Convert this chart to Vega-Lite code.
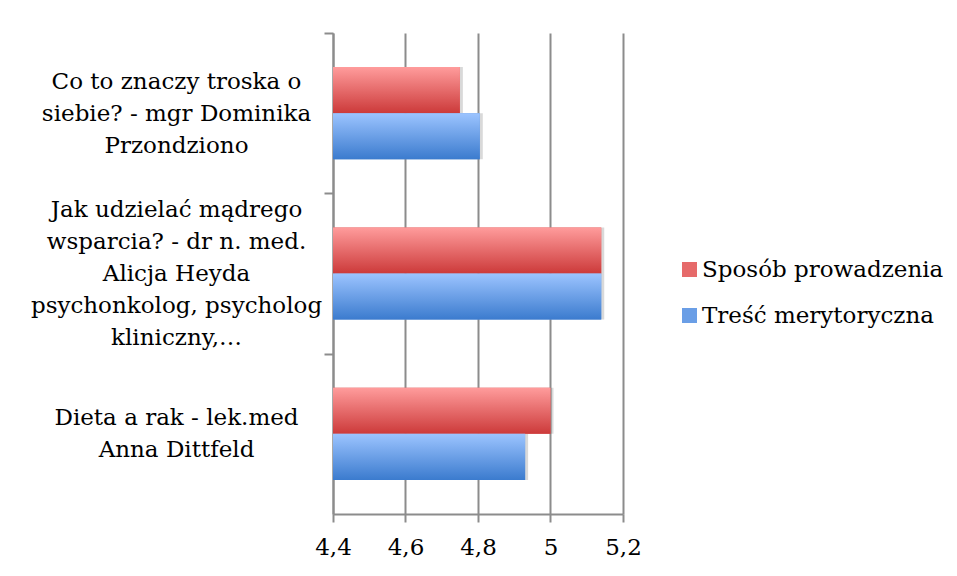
{
  "$schema": "https://vega.github.io/schema/vega-lite/v6.json",
  "width": 290,
  "height": 481,
  "autosize": {"type": "none"},
  "padding": {"left": 333, "top": 33, "right": 334, "bottom": 62},
  "background": "white",
  "config": {"view": {"stroke": null}, "font": "DejaVu Serif"},
  "data": {
    "values": [
      {"topic": "Co to znaczy troska o\nsiebie? - mgr Dominika\nPrzondziono", "series": "Sposób prowadzenia", "value": 4.75},
      {"topic": "Co to znaczy troska o\nsiebie? - mgr Dominika\nPrzondziono", "series": "Treść merytoryczna", "value": 4.805},
      {"topic": "Jak udzielać mądrego\nwsparcia? - dr n. med.\nAlicja Heyda\npsychonkolog, psycholog\nkliniczny,…", "series": "Sposób prowadzenia", "value": 5.14},
      {"topic": "Jak udzielać mądrego\nwsparcia? - dr n. med.\nAlicja Heyda\npsychonkolog, psycholog\nkliniczny,…", "series": "Treść merytoryczna", "value": 5.14},
      {"topic": "Dieta a rak - lek.med\nAnna Dittfeld", "series": "Sposób prowadzenia", "value": 5.0},
      {"topic": "Dieta a rak - lek.med\nAnna Dittfeld", "series": "Treść merytoryczna", "value": 4.93}
    ]
  },
  "encoding": {
    "y": {
      "field": "topic",
      "type": "nominal",
      "sort": null,
      "scale": {"paddingInner": 0.425, "paddingOuter": 0.2125},
      "axis": {
        "title": null,
        "grid": false,
        "tickOffset": -80.17,
        "labelOffset": 16.17,
        "domainColor": "#8c8c8c",
        "domainWidth": 2,
        "tickColor": "#8c8c8c",
        "tickWidth": 2,
        "tickSize": 9,
        "labelFont": "DejaVu Serif",
        "labelFontSize": 23,
        "labelColor": "black",
        "labelAlign": "center",
        "labelBaseline": {
          "condition": {"test": "indexof(datum.value, 'Dieta') == 0", "value": "line-top"},
          "value": "middle"
        },
        "labelLineHeight": 32,
        "labelLimit": 0,
        "labelOverlap": false,
        "labelBound": false,
        "labelExpr": "split((length(split(datum.value, '\\n')) < 5 ? '\u00a0\\n' : '') + datum.value, '\\n')",
        "labelPadding": 148
      }
    },
    "yOffset": {"field": "series", "type": "nominal", "sort": ["Sposób prowadzenia", "Treść merytoryczna"], "scale": {"domain": ["Sposób prowadzenia", "Treść merytoryczna"]}},
    "x": {
      "field": "value",
      "type": "quantitative",
      "stack": null,
      "scale": {"domain": [4.4, 5.2], "zero": false, "nice": false},
      "axis": {
        "title": null,
        "values": [4.4, 4.6, 4.8, 5, 5.2],
        "labelExpr": "replace(format(datum.value, '~g'), '.', ',')",
        "labelFlush": false,
        "grid": true,
        "gridColor": "#8c8c8c",
        "gridWidth": 2,
        "domainColor": "#8c8c8c",
        "domainWidth": 2,
        "tickColor": "#8c8c8c",
        "tickWidth": 2,
        "tickSize": 8,
        "labelFont": "DejaVu Serif",
        "labelFontSize": 23,
        "labelColor": "black",
        "labelPadding": 14
      }
    }
  },
  "layer": [
    {
      "mark": {"type": "bar", "color": "#000000", "opacity": 0.15, "xOffset": 3, "yOffset": 3}
    },
    {
      "mark": {"type": "bar"},
      "encoding": {
        "color": {
          "field": "series",
          "type": "nominal",
          "scale": {
            "domain": ["Sposób prowadzenia", "Treść merytoryczna"],
            "range": ["#e66a6a", "#6a9ee6"]
          },
          "legend": {
            "title": null,
            "orient": "none",
            "legendX": 345,
            "legendY": 225,
            "symbolType": "square",
            "symbolSize": 225,
            "symbolStrokeWidth": 0,
            "symbolOpacity": 1,
            "labelFont": "DejaVu Serif",
            "labelFontSize": 23,
            "labelColor": "black",
            "labelOffset": 1,
            "labelLimit": 0,
            "rowPadding": 22
          }
        }
      }
    },
    {
      "transform": [{"filter": "datum.series == 'Sposób prowadzenia'"}],
      "mark": {"type": "bar", "opacity": 1, "color": {"gradient": "linear", "x1": 0, "y1": 0, "x2": 0, "y2": 1, "stops": [{"offset": 0, "color": "#ff9c9c"}, {"offset": 1, "color": "#cc3a3a"}]}}
    },
    {
      "transform": [{"filter": "datum.series == 'Treść merytoryczna'"}],
      "mark": {"type": "bar", "opacity": 1, "color": {"gradient": "linear", "x1": 0, "y1": 0, "x2": 0, "y2": 1, "stops": [{"offset": 0, "color": "#9cc4ff"}, {"offset": 1, "color": "#3b7bce"}]}}
    }
  ]
}
